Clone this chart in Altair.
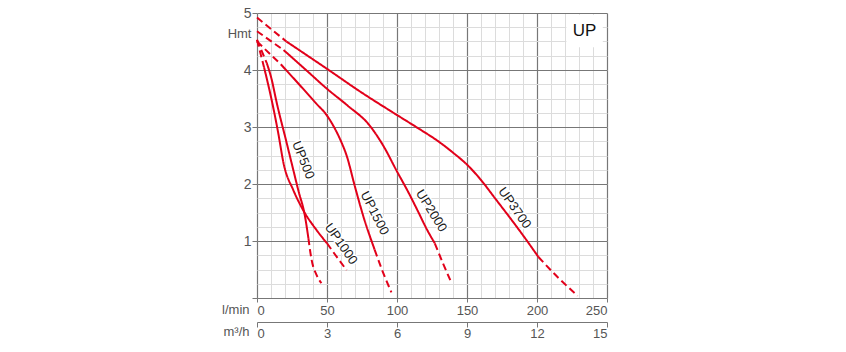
import altair as alt
import pandas as pd

# ---------------- data ----------------
curve_names = ["UP500", "UP1000", "UP1500", "UP2000", "UP3700"]

q_up500 = [0, 7, 10, 14.5, 20.7, 24.8, 29.5, 34.3, 36.7, 39, 42.6, 46]
h_up500 = [4.53, 4.12, 3.88, 3.38, 2.77, 2.36, 1.89, 1.43, 1.05, 0.67, 0.40, 0.26]
solid_up500 = (1, 8)

q_up1000 = [0, 5, 10.5, 15.2, 19, 26, 33, 42.6, 50, 57, 64]
h_up1000 = [4.53, 4.05, 3.47, 2.89, 2.36, 1.89, 1.54, 1.19, 0.96, 0.72, 0.49]
solid_up1000 = (1, 8)

q_up1500 = [0, 17, 30, 42, 50, 55, 60, 64, 70, 76, 84, 90, 96]
h_up1500 = [4.5, 4.1, 3.75, 3.42, 3.2, 3.0, 2.75, 2.5, 1.95, 1.43, 0.85, 0.45, 0.1]
solid_up1500 = (1, 10)

q_up2000 = [0, 19, 35, 50, 65, 80, 90, 100, 108, 115, 121, 127, 133, 139]
h_up2000 = [4.68, 4.35, 4.0, 3.67, 3.37, 3.04, 2.68, 2.22, 1.86, 1.52, 1.22, 0.96, 0.6, 0.26]
solid_up2000 = (1, 11)

q_up3700 = [0, 21, 50, 75, 100, 115, 130, 140, 150, 160, 170, 180, 190, 201, 215, 229]
h_up3700 = [4.92, 4.5, 4.02, 3.6, 3.21, 2.98, 2.74, 2.55, 2.34, 2.07, 1.75, 1.43, 1.1, 0.72, 0.36, 0.04]
solid_up3700 = (1, 13)

# curve labels
label_text = ["UP500", "UP1000", "UP1500", "UP2000", "UP3700"]
label_q = [33.0, 60.0, 84.0, 124.5, 184.0]
label_h = [2.42, 0.95, 1.49, 1.53, 1.58]
label_angle = [68, 55, 63, 58, 55]

# axis ticks
lmin_ticks = [0, 50, 100, 150, 200, 250]
m3h_ticks = [0, 3, 6, 9, 12, 15]
h_ticks = [0, 1, 2, 3, 4, 5]
lmin_minor = list(range(0, 251, 10))
h_minor = [i * 0.25 for i in range(0, 21)]

# "UP" box
box_q = [221]
box_q2 = [247]
box_h = [4.40]
box_h2 = [4.97]
box_label = ["UP"]

# ---------------- build tables ----------------
series = {
    "UP500": (q_up500, h_up500, solid_up500),
    "UP1000": (q_up1000, h_up1000, solid_up1000),
    "UP1500": (q_up1500, h_up1500, solid_up1500),
    "UP2000": (q_up2000, h_up2000, solid_up2000),
    "UP3700": (q_up3700, h_up3700, solid_up3700),
}
rows = []
for name in curve_names:
    qs, hs, (a, b) = series[name]
    parts = [("head", "dash", range(0, a + 1)),
             ("body", "solid", range(a, b + 1)),
             ("tail", "dash", range(b, len(qs)))]
    for part, style, idx in parts:
        for k, i in enumerate(idx):
            rows.append({"curve": name, "seg": name + "_" + part, "style": style,
                         "q": qs[i], "h": hs[i], "o": k})
df = pd.DataFrame(rows)
labels_df = pd.DataFrame({"t": label_text, "q": label_q, "h": label_h, "a": label_angle})
box_df = pd.DataFrame({"q": box_q, "q2": box_q2, "h": box_h, "h2": box_h2, "t": box_label})
m3h_map = "{" + ",".join(f"{l}:{m}" for l, m in zip(lmin_ticks, m3h_ticks)) + "}"

XS = alt.Scale(domain=[0, 250], nice=False, zero=False)
YS = alt.Scale(domain=[0, 5], nice=False, zero=False)
FONT = "Liberation Sans"
GRAY = "#555555"
RED = "#e2001a"

base = alt.Chart(df)

minor = base.mark_line(opacity=0).encode(
    x=alt.X("q:Q", scale=XS, axis=alt.Axis(
        orient="bottom", values=lmin_minor, grid=True, gridColor="#dcdcdc", gridWidth=1,
        labels=False, ticks=False, domain=False, title="")),
    y=alt.Y("h:Q", scale=YS, axis=alt.Axis(
        orient="left", values=h_minor, grid=True, gridColor="#dcdcdc", gridWidth=1,
        labels=False, ticks=False, domain=False, title="")),
    detail="seg:N",
)

curves = base.mark_line(strokeWidth=2, color=RED, interpolate="monotone").encode(
    x=alt.X("q:Q", scale=XS, axis=alt.Axis(
        orient="bottom", values=lmin_ticks, grid=True, gridColor="#777777", gridWidth=1.2,
        domain=False, ticks=True, tickSize=4, tickColor="#777777", labelPadding=2,
        labelFont=FONT, labelFontSize=13, labelColor=GRAY,
        title="l/min", titleFont=FONT, titleFontSize=13, titleFontWeight="normal",
        titleColor=GRAY, titleAlign="right", titleBaseline="alphabetic",
        titleX=-8, titleY=15, titleAngle=0)),
    y=alt.Y("h:Q", scale=YS, axis=alt.Axis(
        orient="left", values=h_ticks, grid=True, gridColor="#777777", gridWidth=1.2,
        domain=False, ticks=True, tickSize=5, tickColor="#777777", labelPadding=1,
        labelExpr="datum.value == 0 ? '' : datum.label",
        labelFont=FONT, labelFontSize=14, labelColor=GRAY,
        title="Hmt", titleFont=FONT, titleFontSize=13, titleFontWeight="normal",
        titleColor=GRAY, titleAlign="right", titleBaseline="alphabetic",
        titleX=-6, titleY=24, titleAngle=0)),
    detail="seg:N",
    order="o:Q",
    strokeDash=alt.StrokeDash("style:N", scale=alt.Scale(
        domain=["solid", "dash"], range=[[1, 0], [7, 4]]), legend=None),
)

m3h = base.mark_line(opacity=0).encode(
    x=alt.X("q:Q", scale=XS, axis=alt.Axis(
        orient="bottom", offset=24, values=lmin_ticks, grid=False,
        labelExpr=m3h_map + "[datum.value]",
        domain=True, domainColor="#777777", domainWidth=1.2,
        ticks=True, tickSize=5, tickColor="#777777", labelPadding=0,
        labelFont=FONT, labelFontSize=13, labelColor=GRAY,
        title="m³/h", titleFont=FONT, titleFontSize=13, titleFontWeight="normal",
        titleColor=GRAY, titleAlign="right", titleBaseline="alphabetic",
        titleX=-8, titleY=13, titleAngle=0)),
    y=alt.Y("h:Q", scale=YS, axis=None),
    detail="seg:N",
)

halo = alt.Chart(labels_df).mark_text(
    font=FONT, fontSize=13, stroke="white", strokeWidth=3, color="white",
    align="center", baseline="middle").encode(
    x=alt.X("q:Q", scale=XS, axis=None),
    y=alt.Y("h:Q", scale=YS, axis=None),
    angle=alt.Angle("a:Q", scale=None),
    text="t:N",
)
txt = alt.Chart(labels_df).mark_text(
    font=FONT, fontSize=13, color="#1a1a1a", align="center", baseline="middle").encode(
    x=alt.X("q:Q", scale=XS, axis=None),
    y=alt.Y("h:Q", scale=YS, axis=None),
    angle=alt.Angle("a:Q", scale=None),
    text="t:N",
)

box = alt.Chart(box_df).mark_rect(color="white").encode(
    x=alt.X("q:Q", scale=XS, axis=None), x2="q2:Q",
    y=alt.Y("h:Q", scale=YS, axis=None), y2="h2:Q",
)
box_txt = alt.Chart(box_df).mark_text(
    font=FONT, fontSize=17, color="#111111", align="center", baseline="middle").encode(
    x=alt.X("mq:Q", scale=XS, axis=None),
    y=alt.Y("mh:Q", scale=YS, axis=None),
    text="t:N",
).transform_calculate(mq="(datum.q + datum.q2) / 2", mh="(datum.h + datum.h2) / 2")

chart = alt.layer(minor, curves, m3h, box, box_txt, halo, txt).resolve_axis(
    x="independent", y="independent"
).properties(
    width=350, height=285,
    autosize=alt.AutoSizeParams(type="none"),
    padding={"left": 257, "top": 13, "right": 239, "bottom": 54},
).configure_view(strokeWidth=0).configure(background="white")

chart.save("out.html", embed_options={"renderer": "svg", "actions": False})
